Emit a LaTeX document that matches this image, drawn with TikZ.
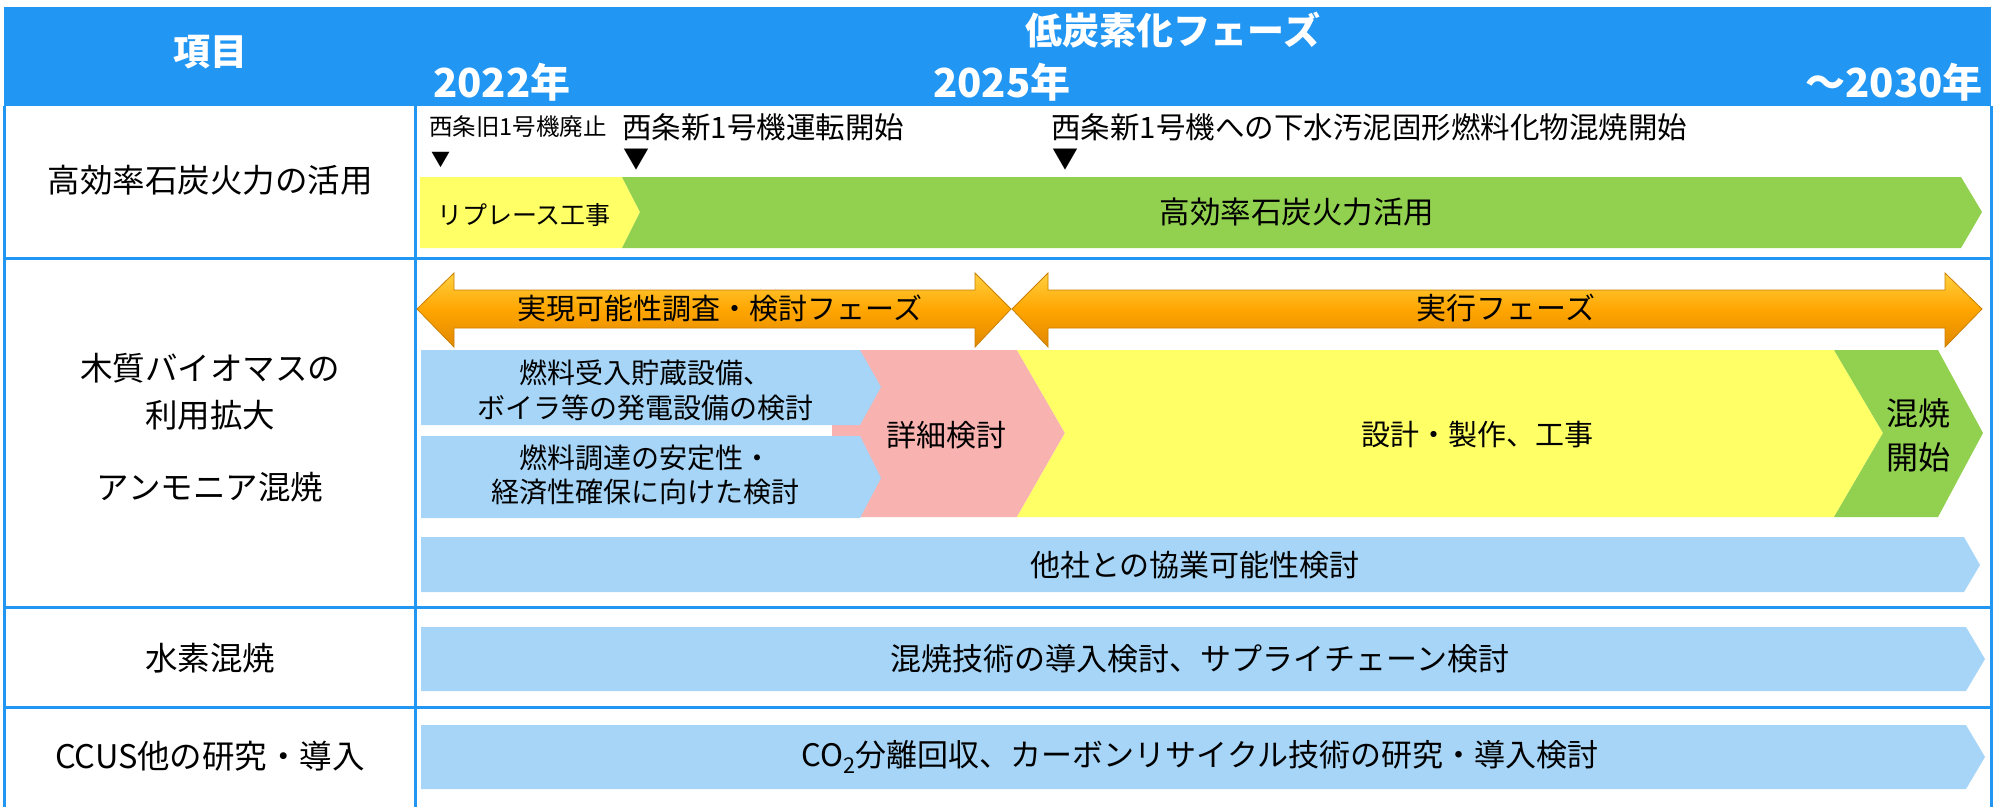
\documentclass[tikz,border=0pt]{standalone}
\usepackage{fontspec}
\setmainfont{Noto Sans CJK JP}
\definecolor{hblue}{HTML}{2196F3}
\definecolor{lblue}{HTML}{A6D5F7}
\definecolor{byel}{HTML}{FFFF66}
\definecolor{bgreen}{HTML}{92D050}
\definecolor{bpink}{HTML}{F8B2B0}
\definecolor{orT}{HTML}{FFD040}
\definecolor{orM}{HTML}{FFA500}
\definecolor{orB}{HTML}{E08800}
\definecolor{orE}{HTML}{C98000}
\newcommand{\fsz}[1]{\fontsize{#1}{#1}\selectfont}
\begin{document}
\begin{tikzpicture}[x=1pt,y=-1pt,
  hdr/.style={text=white,inner sep=0pt,font=\bfseries\fsz{37}},
  yr/.style={text=white,inner sep=0pt,font=\bfseries\fsz{40}},
  lbl/.style={inner sep=0pt,align=center,font=\fontsize{32.5}{47}\selectfont},
  bartxt/.style={inner sep=0pt,align=center,font=\fsz{31}},
  smalltxt/.style={inner sep=0pt,anchor=west},
  grid/.style={hblue,line width=3pt},
  orarrow/.style={top color=orT,bottom color=orB,middle color=orM,draw=orE,line width=0.8pt}
]
\useasboundingbox (0,0) rectangle (1995,807);
% header
\fill[hblue] (4,7) rectangle (1991,106);
\draw[grid] (4,106) -- (4,807);
\draw[grid] (1991,106) -- (1991,807);
\draw[grid] (415,106) -- (415,807);
\draw[grid] (4,258) -- (1991,258);
\draw[grid] (4,607) -- (1991,607);
\draw[grid] (4,707) -- (1991,707);
\node[hdr] (koumoku) at (210,52) {項目};
\node[hdr] (phase) at (1173,30) {低炭素化フェーズ};
\node[yr,anchor=west] (y22) at (433,82) {2022年};
\node[yr,anchor=west] (y25) at (933,82) {2025年};
\node[yr,anchor=east] (y30) at (1983,82) {～2030年};
% left labels
\node[lbl] (l1) at (210,180) {高効率石炭火力の活用};
\node[lbl] (l2a) at (210,392) {木質バイオマスの\\利用拡大};
\node[lbl] (l2b) at (210,487) {アンモニア混焼};
\node[lbl] (l3) at (210,658) {水素混焼};
\node[lbl] (l4) at (210,756) {CCUS他の研究・導入};
% row 1
\node[smalltxt,font=\fsz{23.5}] (m1) at (429,127) {西条旧1号機廃止};
\node[smalltxt,font=\fsz{29.5}] (m2) at (622,127) {西条新1号機運転開始};
\node[smalltxt,font=\fsz{29.5}] (m3) at (1051,127) {西条新1号機への下水汚泥固形燃料化物混焼開始};
\node[inner sep=0pt,font=\fsz{19}] (t1) at (441,160) {▼};
\node[inner sep=0pt,font=\fsz{26}] (t2) at (636,160) {▼};
\node[inner sep=0pt,font=\fsz{26}] (t3) at (1065,160) {▼};
\fill[byel] (420,177) -- (622,177) -- (640,212) -- (622,248) -- (420,248) -- cycle;
\fill[bgreen] (622,177) -- (1961,177) -- (1982,212) -- (1961,248) -- (622,248) -- (640,212) -- cycle;
\node[inner sep=0pt,font=\fsz{25}] (replace) at (524,215) {リプレース工事};
\node[inner sep=0pt,font=\fsz{30.5}] (katsuyo) at (1297,212) {高効率石炭火力活用};
% row 2 arrows
\shade[orarrow] (417,309) -- (454,273) -- (454,290) -- (975,290) -- (975,273) -- (1011,309) -- (975,347) -- (975,328) -- (454,328) -- (454,347) -- cycle;
\shade[orarrow] (1012,309) -- (1048,273) -- (1048,290) -- (1945,290) -- (1945,273) -- (1982,309) -- (1945,347) -- (1945,328) -- (1048,328) -- (1048,347) -- cycle;
\node[inner sep=0pt,font=\fsz{29}] (fs) at (720,308) {実現可能性調査・検討フェーズ};
\node[inner sep=0pt,font=\fsz{30}] (jikko) at (1506,308) {実行フェーズ};
% row 2 bars
\fill[bpink] (832,350) -- (1017,350) -- (1065,433) -- (1017,517) -- (832,517) -- cycle;
\fill[byel] (1017,350) -- (1834,350) -- (1883,433) -- (1834,517) -- (1017,517) -- (1065,433) -- cycle;
\fill[bgreen] (1834,350) -- (1938,350) -- (1983,433) -- (1938,517) -- (1834,517) -- (1883,433) -- cycle;
\fill[lblue] (421,350) -- (860,350) -- (881,387) -- (860,425) -- (421,425) -- cycle;
\fill[lblue] (421,436) -- (860,436) -- (881,478) -- (860,518) -- (421,518) -- cycle;
\node[inner sep=0pt,align=center,font=\fontsize{28}{35}\selectfont] (ba) at (645,390) {燃料受入貯蔵設備、\\ボイラ等の発電設備の検討};
\node[inner sep=0pt,align=center,font=\fontsize{28}{34}\selectfont] (bb) at (645,475) {燃料調達の安定性・\\経済性確保に向けた検討};
\node[inner sep=0pt,font=\fsz{30}] (shosai) at (946,435) {詳細検討};
\node[inner sep=0pt,font=\fsz{29}] (sekkei) at (1477,435) {設計・製作、工事};
\node[inner sep=0pt,align=center,font=\fontsize{32}{44}\selectfont] (konsho) at (1918,435) {混焼\\開始};
\fill[lblue] (421,537) -- (1964,537) -- (1980,565) -- (1964,592) -- (421,592) -- cycle;
\node[inner sep=0pt,font=\fsz{30}] (tasha) at (1195,565) {他社との協業可能性検討};
% row 3
\fill[lblue] (421,627) -- (1966,627) -- (1985,659) -- (1966,691) -- (421,691) -- cycle;
\node[bartxt] (h2) at (1200,659) {混焼技術の導入検討、サプライチェーン検討};
% row 4
\fill[lblue] (421,725) -- (1966,725) -- (1985,757) -- (1966,789) -- (421,789) -- cycle;
\node[bartxt] (ccus) at (1200,757) {CO\textsubscript{2}分離回収、カーボンリサイクル技術の研究・導入検討};
\end{tikzpicture}
\end{document}
